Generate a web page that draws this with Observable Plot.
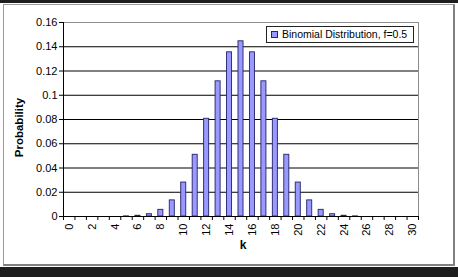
<!DOCTYPE html>
<html>
<head>
<meta charset="utf-8">
<script src="https://cdn.jsdelivr.net/npm/d3@7"></script>
<script src="https://cdn.jsdelivr.net/npm/@observablehq/plot@0.6"></script>
<style>
  html, body { margin: 0; padding: 0; background: #fff; width: 458px; height: 277px; overflow: hidden; }
  #wrap { position: relative; width: 458px; height: 277px; font-family: "Liberation Sans", Arial, sans-serif; }
  .band { position: absolute; left: 0; width: 458px; background: #1e1e1e; z-index: 3; }
  #box { position: absolute; left: 3px; top: 4px; width: 449px; height: 259px; border: 1px solid #9a9a9a; border-right: 2px solid #808080; border-bottom: 2px solid #808080; z-index: 0; }
  #chart { position: absolute; left: 0; top: 0; z-index: 1; }
  #legend { position: absolute; left: 266px; top: 26px; width: 146px; height: 15px; border: 1px solid #222; background: #fff; z-index: 2; font-size: 10.5px; line-height: 15px; white-space: nowrap; }
  #legend .sw { display: inline-block; width: 5px; height: 5px; background: #9999ff; border: 1px solid #222266; margin: 0 4px 0 4px; vertical-align: 0px; }
</style>
</head>
<body>
<div id="wrap">
  <div class="band" style="top:0;height:3px"></div>
  <div id="box"></div>
  <div id="chart"></div>
  <div id="legend"><span class="sw"></span>Binomial Distribution, f=0.5</div>
  <div class="band" style="top:267px;height:10px"></div>
</div>
<script>
const ks = [0,1,2,3,4,5,6,7,8,9,10,11,12,13,14,15,16,17,18,19,20,21,22,23,24,25,26,27,28,29,30];
const probs = [0,0,0,0,0,0.0001,0.0006,0.0019,0.0055,0.0133,0.0280,0.0509,0.0806,0.1115,0.1354,0.1445,0.1354,0.1115,0.0806,0.0509,0.0280,0.0133,0.0055,0.0019,0.0006,0.0001,0,0,0,0,0];
const yTicks = [0,0.02,0.04,0.06,0.08,0.1,0.12,0.14,0.16];
const gridVals = [0.02,0.04,0.06,0.08,0.1,0.12,0.14];
const xLabels = [0,2,4,6,8,10,12,14,16,18,20,22,24,26,28,30];
const seriesName = "Binomial Distribution, f=0.5";

const data = ks.map((k, i) => ({k, p: probs[i]}));
const boundaries = ks.concat([ks.length]).map(k => k - 0.5);
const half = 0.22;

const plot = Plot.plot({
  width: 458, height: 277,
  marginLeft: 63, marginRight: 40, marginTop: 22, marginBottom: 61,
  style: {fontFamily: "'Liberation Sans', Arial, sans-serif", fontSize: "11px", background: "transparent", color: "#000"},
  x: {type: "linear", domain: [-0.5, 30.5]},
  y: {domain: [0, 0.16]},
  marks: [
    Plot.ruleY(gridVals, {stroke: "#000", strokeWidth: 1}),
    Plot.frame({stroke: "#8c8c8c"}),
    Plot.rectY(data, {x1: d => d.k - half, x2: d => d.k + half, y: "p", fill: "#9999ff", stroke: "#222266", strokeWidth: 0.9}),
    Plot.ruleY([0], {stroke: "#000"}),
    Plot.ruleX([-0.5], {stroke: "#000"}),
    Plot.axisY({ticks: yTicks, tickFormat: d => String(+d.toFixed(2)), tickSize: 4, tickPadding: 2, label: null}),
    Plot.axisX({ticks: boundaries, tickFormat: () => "", tickSize: 4, label: null}),
    Plot.axisX({ticks: xLabels, tickSize: 0, tickRotate: -90, tickPadding: 7, label: null, tickFormat: d => String(d)}),
    Plot.text(["Probability"], {frameAnchor: "left", textAnchor: "middle", dx: -44, dy: 8, rotate: -90, fontWeight: "bold", fontSize: 11.5}),
    Plot.text(["k"], {frameAnchor: "bottom", dx: 2, dy: 32, fontWeight: "bold", fontSize: 12})
  ]
});
document.getElementById("chart").appendChild(plot);
</script>
</body>
</html>
